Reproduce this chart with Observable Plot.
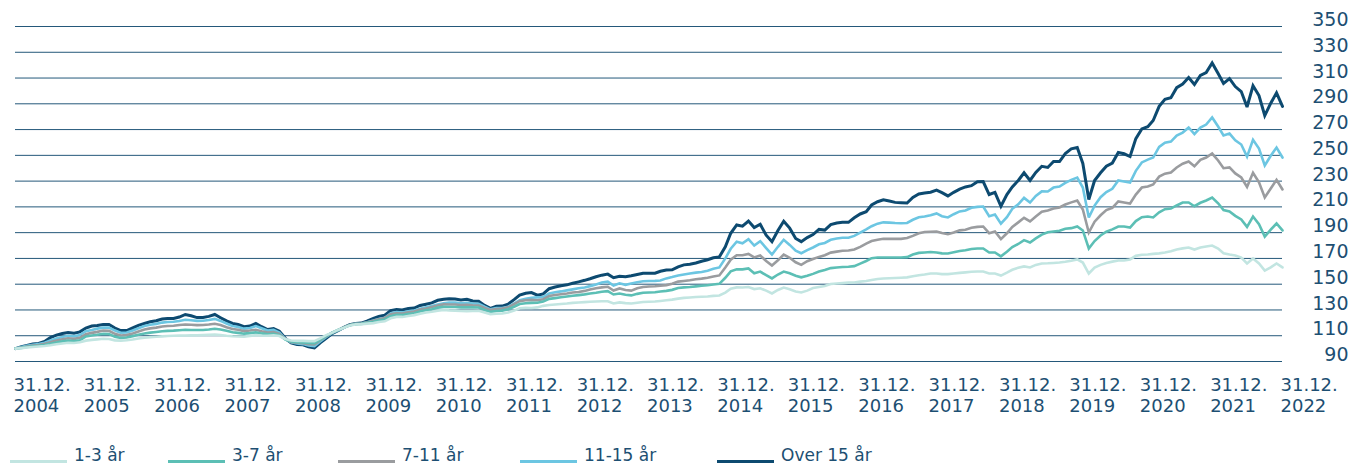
<!DOCTYPE html>
<html>
<head>
<meta charset="utf-8">
<script src="https://cdn.jsdelivr.net/npm/d3@7"></script>
<script src="https://cdn.jsdelivr.net/npm/@observablehq/plot@0.6"></script>
<style>
  html, body { margin: 0; padding: 0; background: #fff; overflow: hidden; }
  #wrap { position: relative; width: 1351px; height: 463px; font-family: "DejaVu Sans", sans-serif; color: #1d4f72; }
  #legend { position: absolute; left: 0; top: 445px; height: 20px; width: 1351px; font-size: 17px; line-height: 20px; }
  .item { position: absolute; top: 0; white-space: nowrap; }
  .sw { display: inline-block; width: 57px; height: 3px; margin-right: 7px; vertical-align: -2px; }
</style>
</head>
<body>
<div id="wrap"><div id="chart"></div><div id="legend"></div></div>
<script>
// Series names (legend order) and colours
const seriesNames = ["1-3 år", "3-7 år", "7-11 år", "11-15 år", "Over 15 år"];
const seriesColors = ["#c2e5e1", "#5cbfb5", "#9a9c9f", "#6cc6e2", "#0d4a70"];

// Monthly index values, 31.12.2004 (=100) to 31.12.2022
const over15 = [
  100, 101.5, 102.5, 103.5, 104, 105.5, 108.6, 110.5, 111.7, 112.5, 112, 113, 116,
  117.5, 118, 118.7, 118.7, 116, 114, 114, 116, 118, 119.5, 120.8, 121.6,
  123, 123.4, 123.4, 124.5, 126.5, 125.5, 124.1, 124.1, 125, 126.5, 124, 121.5,
  119.5, 118.7, 117, 117.5, 119.5, 117, 114.8, 115.5, 113.5, 108, 104.5, 103.2,
  103, 101.5, 100.5, 104.5, 108, 111.5, 114, 116.5, 118.5, 119.5, 119.8, 121.5,
  123.4, 124.9, 126, 129.5, 130.4, 130, 131.1, 131.5, 133.5, 134.5, 135.5, 137.5,
  138.3, 138.7, 138.5, 137.8, 138.3, 137, 136.8, 133.5, 131.2, 132.8, 133, 134.5,
  138, 141.5, 143, 143.5, 141.5, 142.5, 146.5, 147.8, 148.8, 149.5, 150.7, 151.8,
  153, 154.2, 155.8, 157, 157.8, 155, 156.2, 155.8, 156.5, 157.5, 158.4, 158.5,
  158.5, 160, 161, 161.2, 163.5, 165, 165.5, 166.5, 167.8, 169, 170.5, 171.2,
  179, 189.5, 196, 195, 199, 194, 196.5, 188, 183, 191.7, 198.9, 193.5,
  185.5, 183, 186.2, 188.5, 192.5, 192, 196.3, 197.5, 198, 198, 201.5, 204.5,
  206.2, 211.5, 214, 215.5, 214.5, 213.5, 213.2, 213, 217.3, 220, 220.8, 221.4,
  223, 221, 218.5, 221.3, 223.8, 225.5, 226.5, 229.6, 229.7, 219.6, 221.2, 210.5,
  219.5, 225.5, 230.5, 236.5, 230.5, 236.8, 241.5, 240.6, 245.2, 245.2, 251.4, 255,
  256.1, 243.7, 215.7, 230.5, 236.5, 241.5, 244, 252.2, 251.2, 249.1, 263, 270.5,
  272.2, 277, 288, 293.5, 294.7, 302.5, 305.3, 310.4, 305, 312, 314.2, 321.7,
  313.5, 305.8, 309.6, 303.4, 299.5, 287.5, 304, 296.4, 280.9, 290.5, 298.5, 288
];
const y11_15 = [
  100, 101.2, 102.2, 103, 103.5, 104.5, 106.3, 107.8, 109, 110, 109.5, 110.5, 113.5,
  114.5, 115.5, 116.3, 116.3, 114, 112.3, 112.5, 114, 115.8, 117.5, 118.5, 119.2,
  120.2, 120.6, 120.8, 121.5, 122.4, 122, 121.5, 121.6, 122.2, 123.1, 121.5, 119.5,
  117.5, 116.8, 115.5, 116, 117.5, 115.8, 114, 114.5, 112.5, 107.5, 105, 104,
  103.5, 102.5, 102, 105.5, 109, 112, 114.2, 116.3, 118.2, 119.2, 119.5, 120.5,
  121.8, 123, 124, 127.2, 128.3, 128, 129, 129.5, 131, 132, 133, 134.2,
  135.2, 135.8, 135.7, 135.2, 135.5, 135, 134.8, 132.5, 130.5, 131.5, 131.5, 132.5,
  135, 137.5, 138.7, 139.5, 139.8, 140, 142.8, 143.8, 144.4, 145.2, 146, 146.8,
  147.5, 148.5, 149.8, 151.3, 152, 149, 150.7, 149.5, 150.5, 151.5, 152.3, 152.5,
  152.6, 152.9, 154.5, 155.5, 156.7, 157.5, 158.3, 159, 159.5, 160.5, 162, 163,
  170, 177.5, 183, 181.8, 185, 180, 183.4, 178, 173, 179, 184.5, 180.5,
  176, 174, 176.5, 178.5, 181, 182, 184.5, 185.5, 186, 186, 187.5, 190,
  192.5, 195, 197, 198, 197.8, 197.5, 197.3, 197.5, 200, 202, 202.5, 203.5,
  204.9, 202.8, 201.8, 204.3, 206.5, 207.2, 209.3, 210, 210.3, 202.8, 204.1, 197,
  202, 208.5, 212, 217, 213.4, 218.5, 222, 221.9, 225, 225.8, 228.6, 231,
  232.8, 225, 201.8, 211, 217.5, 221.5, 224, 230.5, 229.7, 228.9, 238, 244.5,
  246.7, 248.3, 256.5, 259.8, 260.7, 265.4, 267.7, 271.6, 266.5, 271.5, 273.9, 279.4,
  272.4, 265.5, 266.9, 261.6, 258.4, 249, 262, 255.3, 242.1, 249.7, 256, 248.3
];
const y7_11 = [
  100, 100.8, 101.7, 102.3, 102.8, 103.7, 105, 106.3, 107.2, 108, 107.6, 108.4, 111.2,
  112.2, 113, 114, 113.8, 111.5, 110.2, 110.5, 111.8, 113.3, 114.8, 115.7, 116.3,
  117.2, 117.6, 117.8, 118.3, 118.7, 118.5, 118.2, 118.3, 118.7, 119.3, 118.3, 116.6,
  115.2, 114.6, 113.6, 114, 114.6, 113.5, 112.5, 112.8, 111.5, 107.5, 105.2, 104.5,
  104.2, 103.5, 103.2, 106.5, 109.5, 112.2, 114.3, 116.4, 118.3, 119.2, 119.5, 120.5,
  121.6, 122.8, 123.8, 126.7, 127.5, 127.3, 128.2, 128.8, 130.3, 131.2, 132.3, 133.5,
  134.3, 134.2, 134.2, 133.8, 134, 133.7, 133.5, 131.5, 130, 130.8, 131.1, 132,
  134.5, 136.8, 137.5, 137.8, 137.5, 138.3, 140.8, 141.6, 142.2, 142.8, 143.5, 144,
  144.8, 145.8, 146.8, 147.5, 148, 145.1, 146.7, 145.5, 145, 146.8, 147.8, 148.2,
  148.4, 148.8, 149.3, 150.3, 152, 152.5, 153, 153.8, 154.3, 155, 156, 156.8,
  163, 169, 172.5, 172.5, 173.5, 170.8, 172.3, 168, 164.5, 168.5, 173, 170.5,
  167, 165, 167.8, 169.5, 171.2, 172.5, 174.5, 175.3, 176, 176.1, 177, 179,
  181.5, 183.5, 184.5, 185.2, 185.2, 185.2, 185.2, 185.8, 187.5, 189.5, 190.5, 190.7,
  190.9, 189.8, 188.8, 190.1, 191.8, 192.2, 193.8, 194.5, 194.8, 189.6, 190.9, 185,
  189.5, 194.5, 198, 201.5, 198.7, 202.5, 206.2, 207.2, 208.7, 209.5, 211.8, 213.5,
  215, 208, 190.1, 198.5, 203.5, 207.5, 209.3, 214.2, 213.4, 212.6, 219.5, 225,
  225.8, 227.4, 233.5, 235.8, 236.7, 240.6, 243.5, 245.2, 241.5, 246.5, 248.3, 251.4,
  246, 240, 240.6, 236, 232.8, 225.5, 236.5, 229, 217.3, 224.3, 231, 223.5
];
const y3_7 = [
  100, 100.6, 101.3, 101.8, 102.2, 102.8, 103.8, 104.8, 105.6, 106.2, 105.8, 106.5, 109.5,
  110.2, 110.7, 111.5, 111.3, 109.3, 108.3, 108.6, 109.7, 110.8, 111.8, 112.4, 112.9,
  113.5, 113.8, 114, 114.3, 114.6, 114.5, 114.4, 114.5, 114.8, 115.4, 114.8, 113.8,
  112.7, 112.2, 111.6, 112, 112.6, 111.8, 111.2, 111.5, 110.5, 107, 105.5, 105,
  104.8, 104.4, 104.2, 107, 109.8, 112.3, 114.4, 116.3, 118.2, 119, 119.2, 120,
  120.8, 121.8, 122.6, 125.2, 126.2, 126, 126.8, 127.5, 128.8, 129.8, 130.6, 131.8,
  132.4, 132.3, 132.3, 132, 132.1, 132, 131.9, 130, 128.5, 129.2, 129.5, 130.5,
  132.5, 134.6, 135.2, 135.5, 135.6, 136.5, 138.6, 139.2, 139.8, 140.4, 141, 141.5,
  142.1, 142.8, 143.4, 144.1, 144.6, 142, 142.8, 141.8, 141.3, 142.5, 143.3, 143.6,
  143.8, 144.3, 144.8, 145.6, 147, 147.5, 147.8, 148.3, 148.8, 149.2, 149.8, 150.3,
  155, 160, 161.5, 161.5, 162.2, 158.5, 159.8, 157, 154.5, 157.5, 159.8, 158.5,
  156.5, 155.3, 156.5, 158, 159.8, 161, 162.5, 163, 163.3, 163.5, 164, 166,
  168, 170.2, 170.7, 170.7, 170.7, 170.7, 170.7, 171, 173, 174.3, 174.6, 175,
  174.6, 173.9, 173.8, 174.8, 175.8, 176.3, 177.3, 177.7, 177.7, 174.6, 174.6, 171.6,
  175.2, 178.8, 181.2, 184.2, 182.4, 185.6, 188.5, 190.3, 190.9, 191.5, 193.1, 193.5,
  194.8, 191.7, 177.7, 183.5, 187.8, 190.7, 192.5, 194.8, 194.8, 194, 199, 202,
  202.5, 201.8, 205.8, 208.2, 208.7, 211.1, 213.4, 213.4, 210.5, 213.2, 215, 217.3,
  212.8, 207.5, 206.4, 203, 200.2, 194.5, 202.5, 196.5, 187, 192.4, 197.1, 191.7
];
const y1_3 = [
  100, 100.4, 100.9, 101.3, 101.6, 102, 102.6, 103.4, 104, 104.5, 104.4, 104.9, 106.2,
  106.8, 107.2, 107.6, 107.5, 106.4, 106.2, 106.5, 107.1, 107.8, 108.4, 108.9, 109.2,
  109.5, 109.8, 110, 110.1, 110.2, 110.3, 110.4, 110.6, 110.8, 111, 110.6, 110,
  109.6, 109.4, 109.3, 109.8, 110.5, 110.2, 110, 110.4, 109.8, 107.5, 106.3, 106,
  106, 105.8, 105.8, 108, 110.5, 112.2, 114.5, 116.2, 118, 118.8, 119, 119.4,
  119.8, 120.6, 121.2, 123.5, 124.6, 124.6, 125.3, 126, 127, 128, 128.6, 129.5,
  130, 129.7, 129.5, 129.2, 129.1, 129.2, 129.4, 128, 126.8, 127.1, 127.3, 128,
  129.5, 131.3, 131.6, 131.5, 132, 133.2, 133.8, 134.2, 134.6, 135, 135.5, 135.8,
  136.1, 136.4, 136.6, 136.8, 136.8, 135, 135.9, 135.3, 135, 135.6, 136.2, 136.4,
  136.6, 137, 137.5, 138, 138.8, 139.4, 139.7, 140, 140.3, 140.5, 140.9, 141.2,
  143.5, 146.5, 147.5, 147.4, 147.8, 146.2, 146.8, 145, 142.8, 145.5, 147.4, 146,
  144.3, 143.6, 145, 147, 147.8, 148.6, 150.2, 150.5, 150.8, 151.2, 151.3, 152,
  152.5, 153.2, 154, 154.4, 154.6, 154.8, 155, 155.3, 156.2, 157, 157.5, 158.3,
  158.3, 157.8, 157.8, 158.3, 158.8, 159.2, 159.6, 159.8, 159.8, 158.3, 158.3, 156.7,
  159, 161.2, 162.8, 163.8, 163, 165, 166.1, 166.2, 166.5, 166.8, 167.4, 168.2,
  169.2, 166.8, 158.3, 162.8, 165, 166.5, 167.5, 168.4, 168.4, 169.2, 172, 172.8,
  173, 173.5, 173.9, 174.6, 175.5, 176.9, 177.8, 178.5, 176.9, 178.5, 179.2, 180,
  177.7, 174, 173, 172.3, 170.7, 166.1, 170, 166.1, 160.6, 163, 166.1, 163
];

// Axis ticks
const yTicks = [90, 110, 130, 150, 170, 190, 210, 230, 250, 270, 290, 310, 330, 350];
const xTickYears = [2004, 2005, 2006, 2007, 2008, 2009, 2010, 2011, 2012, 2013, 2014, 2015, 2016, 2017, 2018, 2019, 2020, 2021, 2022];

// Month-end dates: 31.12.2004 ... 31.12.2022
const dates = over15.map((_, i) => new Date(Date.UTC(2005, i, 0)));
const seriesValues = [y1_3, y3_7, y7_11, y11_15, over15];
const rows = seriesNames.flatMap((name, s) => seriesValues[s].map((v, i) => ({date: dates[i], series: name, value: v})));
const xTicks = xTickYears.map(y => new Date(Date.UTC(y, 11, 31)));

// draw darkest first so lighter short-maturity lines sit on top where they meet
const drawOrder = [...seriesNames].reverse();

const chart = Plot.plot({
  width: 1351,
  height: 425,
  marginTop: 26,
  marginBottom: 64,
  marginLeft: 15,
  marginRight: 69,
  style: {fontFamily: "DejaVu Sans, sans-serif", color: "#1d4f72", background: "#fff"},
  x: {type: "utc", domain: [xTicks[0], xTicks[xTicks.length - 1]]},
  y: {domain: [90, 350]},
  color: {domain: seriesNames, range: seriesColors},
  marks: [
    Plot.gridY(yTicks, {stroke: "#24587a", strokeOpacity: 1, strokeWidth: 1}),
    Plot.axisY({anchor: "right", ticks: yTicks, tickSize: 0, tickPadding: 0, textAnchor: "end", dx: 66, dy: -6.5, fontSize: 19, label: null}),
    Plot.axisX({ticks: xTicks, tickFormat: d => "31.12.\n" + d.getUTCFullYear(), tickSize: 0, tickPadding: 15, textAnchor: "start", dx: -2, fontSize: 18, lineHeight: 1.15, label: null}),
    ...drawOrder.map(name => Plot.lineY(rows.filter(r => r.series === name), {
      x: "date", y: "value", stroke: "series",
      strokeWidth: name === "Over 15 år" ? 3 : 2.6, strokeLinejoin: "miter", strokeMiterlimit: 3
    }))
  ]
});
document.getElementById("chart").appendChild(chart);

// Legend
const legendLeft = [10, 168, 338, 520, 717];
const legend = document.getElementById("legend");
seriesNames.forEach((name, i) => {
  const it = document.createElement("div");
  it.className = "item";
  it.style.left = legendLeft[i] + "px";
  const sw = document.createElement("span");
  sw.className = "sw";
  sw.style.background = seriesColors[i];
  it.appendChild(sw);
  it.appendChild(document.createTextNode(name));
  legend.appendChild(it);
});
</script>
</body>
</html>
